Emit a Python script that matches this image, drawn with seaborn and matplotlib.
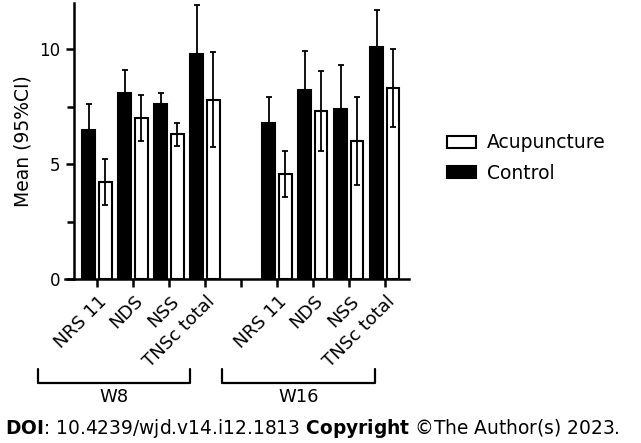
import matplotlib
matplotlib.use("Agg")
import matplotlib.pyplot as plt
import matplotlib.transforms as mtransforms
from matplotlib.lines import Line2D
from matplotlib.patches import Patch
from matplotlib.ticker import MultipleLocator
import seaborn as sns
import pandas as pd

# data (mean and half-width of 95% CI)
metrics = ["NRS 11", "NDS", "NSS", "TNSc total"]
weeks = ["W8", "W16"]
groups = ["Control", "Acupuncture"]

control_mean_w8 = [6.5, 8.1, 7.6, 9.8]
control_ci_w8 = [1.1, 1.0, 0.5, 2.1]
acup_mean_w8 = [4.2, 7.0, 6.3, 7.8]
acup_ci_w8 = [1.0, 1.0, 0.5, 2.05]

control_mean_w16 = [6.8, 8.2, 7.4, 10.1]
control_ci_w16 = [1.1, 1.7, 1.9, 1.6]
acup_mean_w16 = [4.55, 7.3, 6.0, 8.3]
acup_ci_w16 = [1.0, 1.75, 1.9, 1.7]

sns.set_style("ticks")
plt.rcParams["font.family"] = ["DejaVu Sans"]
plt.rcParams["mathtext.fontset"] = "dejavusans"
for k in ["text.color", "axes.labelcolor", "xtick.color", "ytick.color", "axes.edgecolor"]:
    plt.rcParams[k] = "black"

rows = []
tables = {
    ("W8", "Control"): (control_mean_w8, control_ci_w8),
    ("W8", "Acupuncture"): (acup_mean_w8, acup_ci_w8),
    ("W16", "Control"): (control_mean_w16, control_ci_w16),
    ("W16", "Acupuncture"): (acup_mean_w16, acup_ci_w16),
}
for (wk, grp), (means, cis) in tables.items():
    for m, v, c in zip(metrics, means, cis):
        rows.append({"key": f"{wk} {m}", "group": grp, "mean": v, "ci": c})
df = pd.DataFrame(rows)

order = [f"W8 {m}" for m in metrics] + ["gap"] + [f"W16 {m}" for m in metrics]
ticklabels = metrics + [""] + metrics

fig = plt.figure(figsize=(6.41, 4.43), dpi=100)
ax = fig.add_axes([65 / 641, 1 - 279 / 443, (409 - 65) / 641, (279 - 3) / 443])

sns.barplot(data=df, x="key", y="mean", hue="group", order=order,
            hue_order=groups, palette={"Control": "black", "Acupuncture": "white"},
            width=0.9, gap=0.2, edgecolor="black", linewidth=1.5,
            errorbar=None, saturation=1, legend=False, ax=ax)

# error bars at the bar centres seaborn placed
for patch in ax.patches:
    if patch.get_height() == 0 or patch.get_width() == 0:
        continue
    xc = patch.get_x() + patch.get_width() / 2
    key = order[int(round(xc))]
    grp = "Control" if xc < round(xc) else "Acupuncture"
    ci = df[(df.key == key) & (df.group == grp)]["ci"].iloc[0]
    ax.errorbar(xc, patch.get_height(), yerr=ci, fmt="none", ecolor="black",
                elinewidth=1.3, capsize=2, capthick=1.3, zorder=5)

sns.despine(ax=ax)
for s in ["left", "bottom"]:
    ax.spines[s].set_linewidth(1.8)
ax.spines["left"].set_position(("data", -0.64))

ax.set_xlim(-0.89, 8.67)
ax.set_ylim(0, 12)
ax.set_xticks(range(len(order)))
ax.set_xticklabels(ticklabels, rotation=45, ha="right", va="center",
                   rotation_mode="anchor", fontsize=13)
ax.set_yticks([0, 5, 10])
ax.yaxis.set_minor_locator(MultipleLocator(2.5))
ax.tick_params(axis="y", labelsize=12)
ax.tick_params(which="major", length=6, width=1.8, pad=4)
ax.tick_params(axis="x", pad=8)
ax.tick_params(which="minor", length=5, width=1.8)
ax.set_xlabel("")
ax.set_ylabel("Mean (95%CI)", fontsize=13.5, labelpad=5)

shift = mtransforms.ScaledTranslation(7 / 100, 0, fig.dpi_scale_trans)
for lbl in ax.get_xticklabels():
    lbl.set_transform(lbl.get_transform() + shift)

# group brackets below the tick labels
trans = mtransforms.blended_transform_factory(ax.transData, fig.transFigure)
brackets = [("W8", -1.64, 2.58), ("W16", 3.47, 7.72)]
y_top, y_bot = 1 - 369 / 443, 1 - 383 / 443
for name, x0, x1 in brackets:
    ln = Line2D([x0, x0, x1, x1], [y_top, y_bot, y_bot, y_top], color="black",
                lw=1.6, transform=trans, clip_on=False)
    fig.add_artist(ln)
    fig.text((x0 + x1) / 2, 1 - 397 / 443, name, transform=trans,
             ha="center", va="center", fontsize=13)

handles = [Patch(facecolor="white", edgecolor="black", linewidth=1.5),
           Patch(facecolor="black", edgecolor="black", linewidth=1.5)]
fig.legend(handles, ["Acupuncture", "Control"], loc="center left",
           bbox_to_anchor=(0.671, 1 - 158 / 443), frameon=False, fontsize=13.5,
           handlelength=1.55, handleheight=0.65, handletextpad=0.6, labelspacing=0.6)

fig.text(0.008, 1 - 428 / 443,
         r"$\mathbf{DOI}$: 10.4239/wjd.v14.i12.1813 $\mathbf{Copyright}$ ©The Author(s) 2023.",
         ha="left", va="center", fontsize=13.4)

fig.savefig("out.png", dpi=100)
